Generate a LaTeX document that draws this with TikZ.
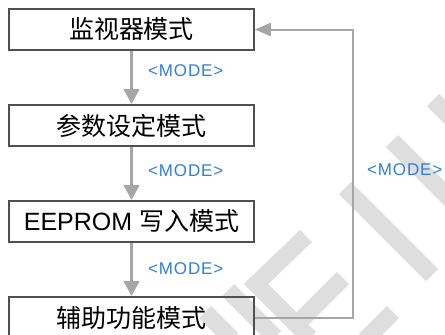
\documentclass[tikz,border=0pt]{standalone}
\usepackage{fontspec}
\setmainfont{Liberation Sans}
\newfontfamily\cjk{Noto Sans CJK SC}
\usetikzlibrary{arrows.meta}
\definecolor{boxline}{HTML}{505050}
\definecolor{arrowgray}{HTML}{A6A6A6}
\definecolor{modeblue}{HTML}{2F7FD8}
\definecolor{wmgray}{HTML}{DEDEDE}
\begin{document}
\begin{tikzpicture}[x=1pt,y=-1pt,
  modebox/.style={draw=boxline, line width=1.6pt, minimum width=245pt, minimum height=41pt, inner sep=0pt, font=\fontsize{25}{30}\selectfont},
  flow/.style={draw=arrowgray, line width=3.5pt, -{Triangle[length=15pt,width=15pt]}},
  loopline/.style={draw=arrowgray, line width=2pt, -{Triangle[length=16pt,width=13pt]}},
  modelabel/.style={text=modeblue, font=\fontsize{17}{19}\selectfont\addfontfeature{LetterSpace=5}, anchor=west, inner sep=0pt},
  wm/.style={draw=wmgray, line width=17pt, line join=miter}
]
\useasboundingbox (0,0) rectangle (445,335);
% watermark
\draw[wm] (433,100) -- (475,142);
\draw[wm] (392,141) -- (475,224);
\draw[wm] (345,188) -- (432,275);
\draw[wm] (306,236) -- (256,284) -- (310,338);
\draw[wm] (343,278) -- (300,321);
\draw[wm] (393,312) -- (365,340);
\draw[wm] (228,290) -- (275,337);
\draw[wm] (205,312) -- (232,339);
% boxes
\node[modebox] (b1) at (131.5,29.5) {\cjk 监视器模式};
\node[modebox] (b2) at (131.5,125.5) {\cjk 参数设定模式};
\node[modebox] (b3) at (131.5,221.5) {EEPROM {\cjk 写入模式}};
\node[modebox] (b4) at (131.5,317.5) {\cjk 辅助功能模式};
% arrows
\draw[flow] (b1) -- (b2);
\draw[flow] (b2) -- (b3);
\draw[flow] (b3) -- (b4);
\coordinate (lc) at (353,0);
\draw[loopline] (b4.east) -- (b4.east -| lc) -- (b1.east -| lc) -- (b1.east);
% labels
\node[modelabel] (m1) at (148,71) {<MODE>};
\node[modelabel] (m2) at (148,171) {<MODE>};
\node[modelabel] (m3) at (148,269) {<MODE>};
\node[modelabel] (m4) at (367,170) {<MODE>};
\end{tikzpicture}
\end{document}
